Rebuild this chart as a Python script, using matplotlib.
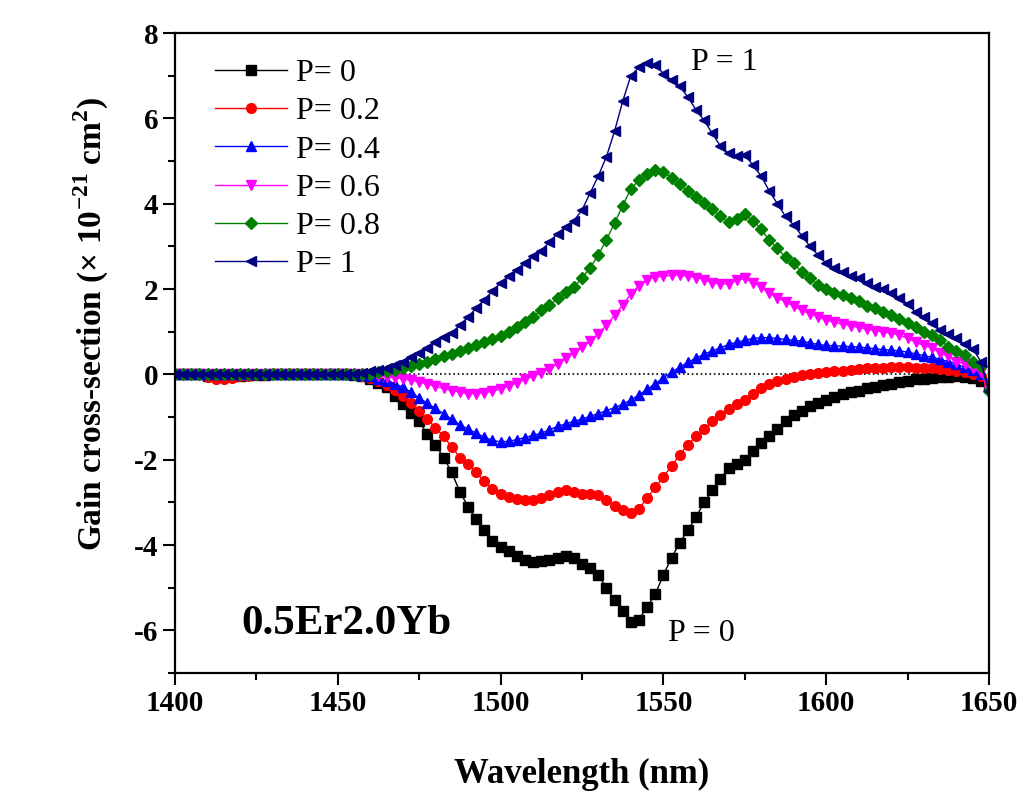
import numpy as np
import matplotlib
matplotlib.use('Agg')
import matplotlib.pyplot as plt
from matplotlib.ticker import MultipleLocator

plt.rcParams['font.family'] = ['Liberation Serif', 'DejaVu Serif']
plt.rcParams['mathtext.fontset'] = 'custom'
plt.rcParams['mathtext.rm'] = 'Liberation Serif'
plt.rcParams['mathtext.bf'] = 'Liberation Serif:bold'
plt.rcParams['axes.unicode_minus'] = False

# wavelength grid, 2.5 nm steps from 1400 to 1650
wavelength = np.arange(1400, 1650.1, 2.5)

flat = [0.0] * 22  # 1400 - 1452.5

p00 = [0, 0, 0, 0, -0.03, -0.05, -0.05, -0.04, -0.03, -0.02, -0.02,
       -0.01, 0, 0, 0, 0, 0, 0, 0, 0, 0, 0] + [
    -0.02, -0.05, -0.1, -0.2, -0.3, -0.5, -0.7, -0.9, -1.1, -1.4,
    -1.65, -1.95, -2.3, -2.75, -3.1, -3.4, -3.65, -3.9, -4.05, -4.15,
    -4.25, -4.35, -4.4, -4.38, -4.36, -4.3, -4.25, -4.3, -4.45, -4.55,
    -4.7, -5.0, -5.3, -5.55, -5.8, -5.75, -5.45, -5.15, -4.7, -4.3,
    -3.95, -3.65, -3.35, -3.0, -2.72, -2.45, -2.2, -2.1, -2.0, -1.8,
    -1.6, -1.45, -1.28, -1.1, -0.95, -0.85, -0.75, -0.68, -0.6, -0.52,
    -0.47, -0.42, -0.38, -0.33, -0.3, -0.26, -0.22, -0.18, -0.15, -0.12,
    -0.1, -0.08, -0.07, -0.06, -0.05, -0.06, -0.08, -0.15, -0.3]

p02 = [0, 0, 0, 0, -0.06, -0.1, -0.1, -0.08, -0.05, -0.03, -0.02,
       -0.01, 0, 0, 0, 0, 0, 0, 0, 0, 0, 0] + [
    0.0, -0.03, -0.08, -0.15, -0.25, -0.37, -0.5, -0.67, -0.85, -1.05,
    -1.25, -1.45, -1.7, -1.95, -2.1, -2.3, -2.5, -2.68, -2.8, -2.88,
    -2.92, -2.95, -2.95, -2.9, -2.82, -2.75, -2.72, -2.75, -2.8, -2.8,
    -2.82, -2.95, -3.08, -3.18, -3.25, -3.15, -2.9, -2.65, -2.4, -2.15,
    -1.88, -1.65, -1.45, -1.28, -1.1, -0.95, -0.82, -0.7, -0.6, -0.45,
    -0.32, -0.22, -0.15, -0.1, -0.06, -0.02, 0.0, 0.03, 0.05, 0.07,
    0.09, 0.11, 0.13, 0.14, 0.15, 0.16, 0.17, 0.17, 0.17, 0.16,
    0.15, 0.14, 0.12, 0.1, 0.07, 0.05, 0.02, -0.05, -0.2]

p04 = flat + [
    0.0, -0.02, -0.05, -0.1, -0.15, -0.22, -0.3, -0.42, -0.55, -0.68,
    -0.8, -0.92, -1.05, -1.18, -1.28, -1.38, -1.47, -1.55, -1.58, -1.57,
    -1.53, -1.48, -1.43, -1.38, -1.3, -1.22, -1.16, -1.1, -1.05, -0.98,
    -0.92, -0.85, -0.78, -0.7, -0.6, -0.48, -0.35, -0.22, -0.08, 0.05,
    0.17, 0.28, 0.38, 0.47, 0.55, 0.62, 0.7, 0.75, 0.8, 0.84,
    0.86, 0.86, 0.84, 0.82, 0.8, 0.78, 0.74, 0.7, 0.68, 0.67,
    0.66, 0.65, 0.64, 0.62, 0.6, 0.58, 0.57, 0.55, 0.52, 0.48,
    0.44, 0.4, 0.35, 0.3, 0.24, 0.17, 0.1, 0.0, -0.3]

p06 = flat + [
    0.0, 0.0, -0.02, -0.04, -0.06, -0.08, -0.1, -0.14, -0.18, -0.23,
    -0.28, -0.33, -0.38, -0.42, -0.45, -0.45, -0.43, -0.4, -0.34, -0.27,
    -0.2, -0.12, -0.04, 0.04, 0.13, 0.25, 0.38, 0.5, 0.63, 0.78,
    0.95, 1.15, 1.38, 1.63, 1.88, 2.08, 2.22, 2.28, 2.3, 2.32,
    2.33, 2.3, 2.27, 2.22, 2.15, 2.12, 2.12, 2.2, 2.25, 2.15,
    2.05, 1.9, 1.8, 1.7, 1.6, 1.5, 1.42, 1.35, 1.28, 1.22,
    1.18, 1.14, 1.1, 1.06, 1.02, 1.0, 0.96, 0.92, 0.85, 0.75,
    0.68, 0.62, 0.5, 0.42, 0.3, 0.24, 0.15, 0.05, -0.4]

p08 = flat + [
    0.0, 0.01, 0.02, 0.05, 0.08, 0.11, 0.15, 0.2, 0.25, 0.3,
    0.36, 0.42, 0.48, 0.55, 0.62, 0.68, 0.75, 0.82, 0.9, 1.0,
    1.1, 1.22, 1.35, 1.5, 1.62, 1.78, 1.92, 2.05, 2.25, 2.5,
    2.8, 3.15, 3.55, 3.95, 4.35, 4.55, 4.7, 4.8, 4.75, 4.6,
    4.45, 4.3, 4.15, 4.02, 3.88, 3.7, 3.58, 3.65, 3.75, 3.6,
    3.4, 3.15, 2.95, 2.75, 2.6, 2.4, 2.25, 2.1, 2.0, 1.9,
    1.85, 1.78, 1.72, 1.6, 1.55, 1.45, 1.38, 1.3, 1.2, 1.1,
    1.0, 0.92, 0.8, 0.65, 0.55, 0.45, 0.3, 0.2, -0.4]

p10 = flat + [
    0.02, 0.04, 0.07, 0.1, 0.15, 0.22, 0.3, 0.4, 0.5, 0.62,
    0.75, 0.87, 0.98, 1.15, 1.35, 1.55, 1.75, 1.95, 2.15, 2.3,
    2.45, 2.62, 2.78, 2.9, 3.1, 3.3, 3.45, 3.6, 3.85, 4.25,
    4.65, 5.1, 5.7, 6.4, 7.0, 7.2, 7.3, 7.25, 7.05, 6.9,
    6.75, 6.5, 6.2, 5.95, 5.65, 5.35, 5.18, 5.12, 5.15, 4.9,
    4.65, 4.3, 4.0, 3.7, 3.5, 3.25, 3.0, 2.8, 2.6, 2.5,
    2.4, 2.3, 2.25, 2.15, 2.05, 2.0, 1.9, 1.8, 1.65, 1.45,
    1.35, 1.2, 1.05, 0.95, 0.85, 0.7, 0.6, 0.3, -0.4]

labels = ['P= 0', 'P= 0.2', 'P= 0.4', 'P= 0.6', 'P= 0.8', 'P= 1']
series = [p00, p02, p04, p06, p08, p10]
colors = ['black', 'red', 'blue', 'magenta', 'green', 'navy']
markers = ['s', 'o', '^', 'v', 'D', '<']

fig = plt.figure(figsize=(10.31, 7.96), dpi=100)
ax = fig.add_axes([0.1697, 0.1545, 0.7896, 0.804])

for y, lab, c, m in zip(series, labels, colors, markers):
    ax.plot(wavelength, y, color=c, marker=m, markersize=7 if m != 'D' else 6,
            linewidth=1, label=lab)

ax.axhline(0, color='black', linestyle=':', linewidth=1.2, zorder=0)

ax.set_xlim(1400, 1650)
ax.set_ylim(-7, 8)
ax.xaxis.set_major_locator(MultipleLocator(50))
ax.xaxis.set_minor_locator(MultipleLocator(25))
ax.yaxis.set_major_locator(MultipleLocator(2))
ax.yaxis.set_minor_locator(MultipleLocator(1))
ax.tick_params(which='major', direction='out', length=8.5, width=1.5,
               labelsize=21, top=False, right=False)
ax.tick_params(which='minor', direction='out', length=5, width=1.5,
               top=False, right=False)
for lbl in ax.get_xticklabels() + ax.get_yticklabels():
    lbl.set_fontweight('bold')
for sp in ax.spines.values():
    sp.set_linewidth(1.6)

ax.set_xlabel('Wavelength (nm)', fontsize=25, fontweight='bold', labelpad=30)
ax.set_ylabel(r'Gain cross-section ($\mathbf{\times}$ 10$^{\mathbf{-21}}$ cm$^{\mathbf{2}}$)',
              fontsize=24, fontweight='bold')
ax.yaxis.set_label_coords(-0.078, 0.545)

ax.text(1558.5, 7.3, 'P = 1', fontsize=23, ha='left', va='center')
ax.text(1551.5, -6.08, 'P = 0', fontsize=23, ha='left', va='center')
ax.text(1420.5, -5.85, '0.5Er2.0Yb', fontsize=31, fontweight='bold',
        ha='left', va='center')

ax.legend(loc='upper left', frameon=False, fontsize=23,
          handlelength=2.25, handletextpad=0.28, labelspacing=0.28,
          bbox_to_anchor=(0.022, 0.995), borderaxespad=0.3)

fig.savefig('out.png', dpi=100)
